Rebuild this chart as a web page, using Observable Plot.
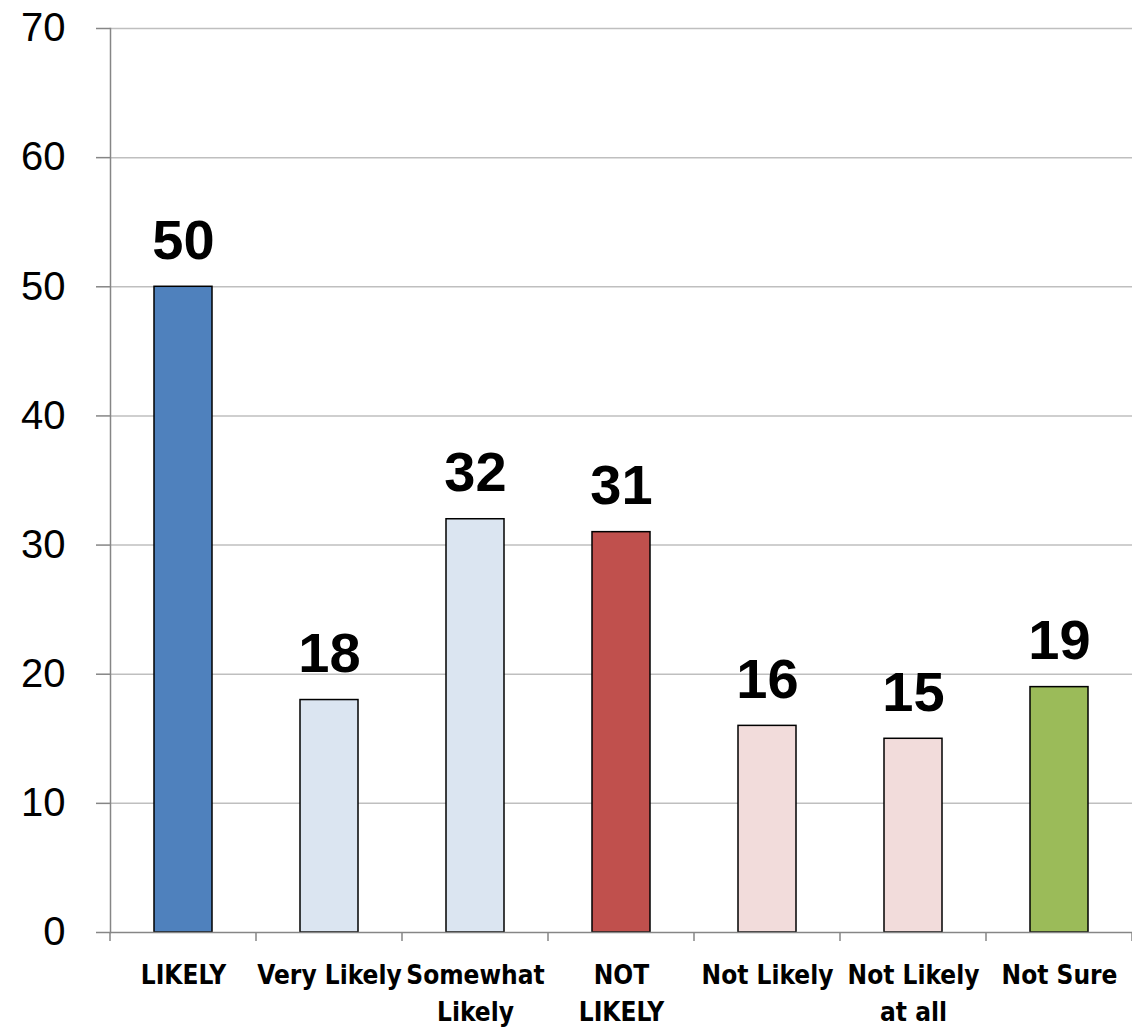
<!DOCTYPE html>
<html>
<head>
<meta charset="utf-8">
<script src="https://cdn.jsdelivr.net/npm/d3@7"></script>
<script src="https://cdn.jsdelivr.net/npm/@observablehq/plot@0.6"></script>
<style>
  html, body { margin: 0; padding: 0; background: #fff; }
  #chart svg { display: block; }
</style>
</head>
<body>
<div id="chart"></div>
<script>
const categories = ["LIKELY", "Very Likely", "Somewhat Likely", "NOT LIKELY", "Not Likely", "Not Likely at all", "Not Sure"];
const tickLabels = ["LIKELY", "Very Likely", "Somewhat\nLikely", "NOT\nLIKELY", "Not Likely", "Not Likely\nat all", "Not Sure"];
const values = [50, 18, 32, 31, 16, 15, 19];
const barColors = ["#4F81BD", "#DBE5F1", "#DBE5F1", "#C0504D", "#F2DCDB", "#F2DCDB", "#9BBB59"];
const yTicks = [0, 10, 20, 30, 40, 50, 60, 70];

const data = categories.map((c, i) => ({category: c, value: values[i], color: barColors[i], label: tickLabels[i]}));

const catTicks = (index, scales, vals, dims) => {
  const g = d3.create("svg:g");
  const n = categories.length;
  const step = (dims.width - dims.marginLeft - dims.marginRight) / n;
  const y0 = dims.height - dims.marginBottom;
  for (let i = 0; i <= n; i++) {
    const x = dims.marginLeft + i * step;
    g.append("line").attr("x1", x).attr("x2", x).attr("y1", y0).attr("y2", y0 + 9)
      .attr("stroke", "#868686").attr("stroke-width", 1.5);
  }
  return g.node();
};

const chart = Plot.plot({
  width: 1132,
  height: 1027,
  marginLeft: 110,
  marginRight: 0,
  marginTop: 28,
  marginBottom: 95,
  style: {fontFamily: "'Liberation Sans', Arial, sans-serif", background: "#fff"},
  x: {domain: categories, paddingInner: 0.6, paddingOuter: 0.3, axis: null},
  y: {domain: [0, 70], axis: null},
  color: {type: "identity"},
  marks: [
    Plot.ruleY(yTicks.filter(d => d > 0), {stroke: "#bfbfbf", strokeWidth: 1.5}),
    Plot.axisY({ticks: yTicks, tickSize: 14, tickPadding: 31, fontSize: 40, stroke: "#868686", strokeWidth: 1.5, fill: "#000", label: null}),
    Plot.frame({anchor: "left", stroke: "#868686", strokeWidth: 1.5}),
    Plot.barY(data, {x: "category", y: "value", fill: "color", stroke: "#000", strokeWidth: 1.5}),
    Plot.ruleY([0], {stroke: "#868686", strokeWidth: 1.5}),
    catTicks,
    Plot.text(data, {x: "category", y: "value", text: d => String(d.value), dy: -28, lineAnchor: "bottom", fontSize: 56, fontWeight: "bold", fill: "#000"}),
    Plot.text(data, {x: "category", frameAnchor: "bottom", text: "label", dy: 25, lineAnchor: "top", lineHeight: 1.42, fontSize: 26, fontWeight: "bold", fill: "#000", fontFamily: "'Liberation Sans Narrow', 'DejaVu Sans Condensed', 'Liberation Sans', sans-serif"})
  ]
});
document.getElementById("chart").appendChild(chart);
</script>
</body>
</html>
